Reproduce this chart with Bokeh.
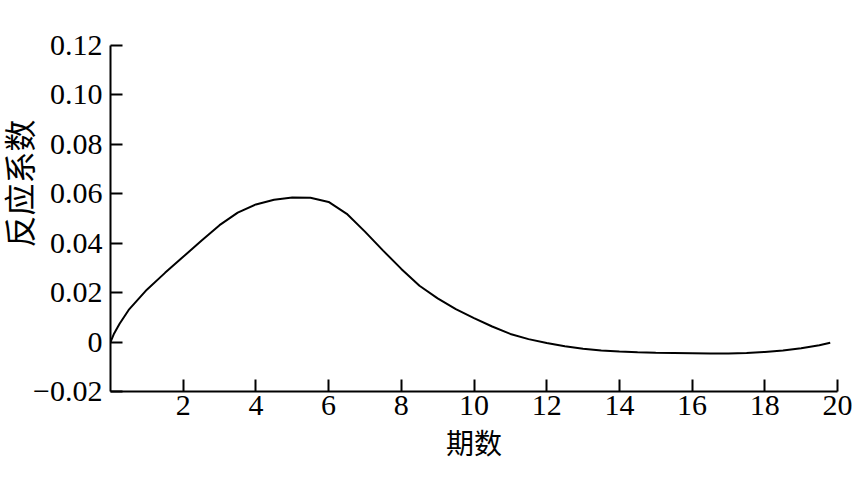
from bokeh.plotting import figure
from bokeh.models import FixedTicker, CustomJSTickFormatter, Range1d, Title
from bokeh.embed import file_html
from bokeh.resources import INLINE

# Data
periods = [0, 0.1, 0.25, 0.5, 1.0, 1.5, 2.0, 2.5, 3.0, 3.5, 4.0, 4.5, 5.0, 5.5, 6.0,
           6.5, 7.0, 7.5, 8.0, 8.5, 9.0, 9.5, 10.0, 10.5, 11.0, 11.5, 12.0,
           12.5, 13.0, 13.5, 14.0, 14.5, 15.0, 15.5, 16.0, 16.5, 17.0, 17.5,
           18.0, 18.5, 19.0, 19.5, 19.8]
response = [0.0, 0.0035, 0.0074, 0.0130, 0.0212, 0.0280, 0.0345, 0.0410, 0.0473,
            0.0524, 0.0557, 0.0576, 0.0585, 0.0584, 0.0567, 0.0519, 0.0447, 0.0370,
            0.0296, 0.0228, 0.0177, 0.0133, 0.0097, 0.0063, 0.0033, 0.0012,
            -0.0004, -0.0017, -0.0027, -0.0034, -0.0038, -0.0041, -0.0043,
            -0.0044, -0.0045, -0.0046, -0.0046, -0.0044, -0.0040, -0.0034,
            -0.0025, -0.0013, -0.0003]
x_ticks = [2, 4, 6, 8, 10, 12, 14, 16, 18, 20]
y_ticks = [-0.02, 0, 0.02, 0.04, 0.06, 0.08, 0.10, 0.12]
x_title = "期数"
y_title = "反应系数"

p = figure(width=853, height=474, output_backend="svg", toolbar_location=None,
           x_range=Range1d(0, 20), y_range=Range1d(-0.02, 0.12),
           min_border_left=110, min_border_right=16, min_border_top=45,
           min_border_bottom=83)
p.outline_line_color = None
p.xgrid.visible = False
p.ygrid.visible = False
p.background_fill_color = "white"
p.border_fill_color = "white"

p.line(periods, response, line_color="black", line_width=2)

serif = "Liberation Serif"
cjk = "Noto Sans CJK SC"

for ax in (p.xaxis[0], p.yaxis[0]):
    ax.axis_line_width = 2
    ax.axis_line_color = "black"
    ax.major_tick_line_width = 2
    ax.major_tick_line_color = "black"
    ax.major_tick_in = 12
    ax.major_tick_out = 0
    ax.minor_tick_line_color = None
    ax.major_label_text_font = serif
    ax.major_label_text_font_size = "30px"
    ax.major_label_text_color = "black"

p.xaxis.ticker = FixedTicker(ticks=x_ticks)
p.yaxis.ticker = FixedTicker(ticks=y_ticks)
p.yaxis.formatter = CustomJSTickFormatter(code="""
    if (Math.abs(tick) < 1e-9) return "0";
    var s = Math.abs(tick).toFixed(2);
    return (tick < 0 ? "\u2212" : "") + s;
""")
p.xaxis.major_label_standoff = 4
p.yaxis.major_label_standoff = 8

p.xaxis.axis_label = x_title
p.xaxis.axis_label_text_font = cjk
p.xaxis.axis_label_text_font_size = "28px"
p.xaxis.axis_label_text_font_style = "normal"
p.xaxis.axis_label_text_color = "black"
p.xaxis.axis_label_standoff = 4

ytitle = Title(text=y_title, align="left", offset=144, standoff=-20,
               text_font=cjk, text_font_size="32px", text_font_style="normal",
               text_color="black", text_line_height=1.0)
p.add_layout(ytitle, "left")

open("out.html", "w").write(file_html(p, INLINE))
